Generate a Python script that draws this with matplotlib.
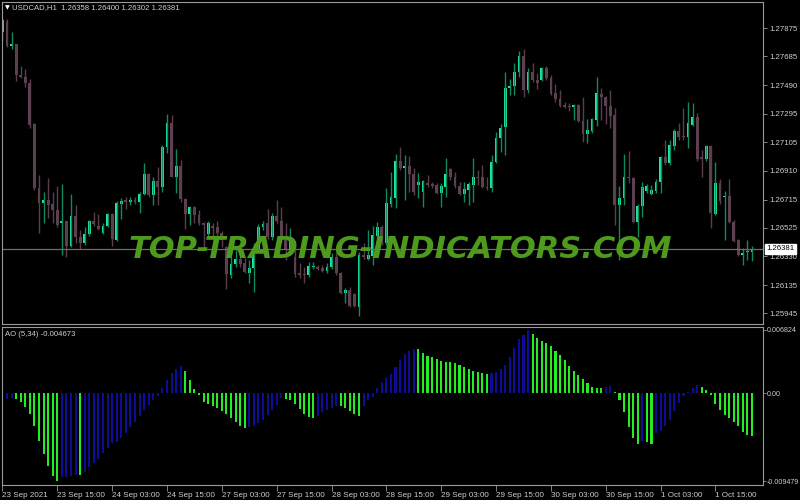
import numpy as np
import matplotlib
matplotlib.use("Agg")
import matplotlib.pyplot as plt

plt.rcParams["font.family"] = ["Liberation Sans", "DejaVu Sans"]

# USDCAD H1 candles, 23 Sep 03:00 .. 1 Oct 23:00
opens = [
    1.27850, 1.27925, 1.27756, 1.27769, 1.27559, 1.27546, 1.27505, 1.27228, 1.26794, 1.26693,
    1.26713, 1.26686, 1.26645, 1.26557, 1.26571, 1.26402, 1.26605, 1.26463, 1.26422, 1.26483,
    1.26571, 1.26537, 1.26490, 1.26537, 1.26618, 1.26442, 1.26686, 1.26713, 1.26699, 1.26713,
    1.26699, 1.26754, 1.26889, 1.26747, 1.26842, 1.26801, 1.27072, 1.27234, 1.26869, 1.26943,
    1.26720, 1.26618, 1.26666, 1.26611, 1.26557, 1.26483, 1.26537, 1.26530, 1.26490, 1.26395,
    1.26205, 1.26280, 1.26314, 1.26286, 1.26219, 1.26253, 1.26368, 1.26530, 1.26557, 1.26463,
    1.26605, 1.26571, 1.26442, 1.26375, 1.26327, 1.26219, 1.26212, 1.26205, 1.26259, 1.26259,
    1.26253, 1.26232, 1.26259, 1.26327, 1.26219, 1.26083, 1.26104, 1.26077, 1.25989, 1.26341,
    1.26314, 1.26334, 1.26469, 1.26530, 1.26422, 1.26686, 1.26727, 1.26977, 1.26930, 1.26943,
    1.26889, 1.26815, 1.26767, 1.26828, 1.26821, 1.26815, 1.26760, 1.26801, 1.26923, 1.26869,
    1.26808, 1.26754, 1.26781, 1.26815, 1.26869, 1.26869, 1.26801, 1.26794, 1.26970, 1.27133,
    1.27207, 1.27471, 1.27485, 1.27580, 1.27688, 1.27458, 1.27580, 1.27525, 1.27525, 1.27607,
    1.27539, 1.27437, 1.27397, 1.27356, 1.27349, 1.27343, 1.27356, 1.27248, 1.27160, 1.27180,
    1.27255, 1.27431, 1.27410, 1.27349, 1.27288, 1.26679, 1.26727, 1.26869, 1.26862, 1.26564,
    1.26672, 1.26774, 1.26754, 1.26774, 1.26835, 1.27004, 1.26963, 1.27079, 1.27180, 1.27146,
    1.27140, 1.27221, 1.27275, 1.27004, 1.26991, 1.27079, 1.26618, 1.26828, 1.26733, 1.26740,
    1.26564, 1.26442, 1.26341, 1.26361, 1.26358]
highs = [
    1.27952, 1.27938, 1.27850, 1.27769, 1.27620, 1.27600, 1.27532, 1.27234, 1.26882, 1.26767,
    1.26862, 1.26767, 1.26808, 1.26821, 1.26571, 1.26754, 1.26679, 1.26510, 1.26530, 1.26578,
    1.26632, 1.26618, 1.26557, 1.26625, 1.26625, 1.26706, 1.26727, 1.26733, 1.26733, 1.26733,
    1.26767, 1.26963, 1.26896, 1.26869, 1.26936, 1.27085, 1.27295, 1.27288, 1.27058, 1.26984,
    1.26727, 1.26672, 1.26672, 1.26645, 1.26564, 1.26571, 1.26557, 1.26571, 1.26503, 1.26402,
    1.26327, 1.26375, 1.26334, 1.26320, 1.26307, 1.26422, 1.26551, 1.26571, 1.26652, 1.26625,
    1.26713, 1.26666, 1.26557, 1.26523, 1.26375, 1.26286, 1.26259, 1.26293, 1.26293, 1.26273,
    1.26273, 1.26286, 1.26354, 1.26354, 1.26226, 1.26117, 1.26124, 1.26083, 1.26361, 1.26422,
    1.26510, 1.26537, 1.26564, 1.26544, 1.26794, 1.26903, 1.27024, 1.27072, 1.27018, 1.27011,
    1.26930, 1.26896, 1.26848, 1.26882, 1.26835, 1.26828, 1.26828, 1.26997, 1.26930, 1.26903,
    1.26835, 1.26835, 1.26835, 1.26997, 1.26916, 1.26950, 1.26869, 1.27018, 1.27173, 1.27228,
    1.27580, 1.27532, 1.27640, 1.27722, 1.27735, 1.27607, 1.27640, 1.27573, 1.27613, 1.27620,
    1.27559, 1.27498, 1.27458, 1.27376, 1.27370, 1.27363, 1.27363, 1.27410, 1.27261, 1.27268,
    1.27546, 1.27471, 1.27417, 1.27458, 1.27336, 1.26808, 1.27024, 1.27045, 1.26869, 1.26686,
    1.26835, 1.26821, 1.26815, 1.26855, 1.27011, 1.27119, 1.27119, 1.27194, 1.27234, 1.27336,
    1.27376, 1.27370, 1.27302, 1.27052, 1.27085, 1.27085, 1.26970, 1.26855, 1.26774, 1.26855,
    1.26578, 1.26449, 1.26388, 1.26442, 1.26400]
lows = [
    1.27789, 1.27749, 1.27735, 1.27519, 1.27539, 1.27478, 1.27200, 1.26781, 1.26490, 1.26557,
    1.26591, 1.26557, 1.26530, 1.26341, 1.26327, 1.26395, 1.26422, 1.26381, 1.26408, 1.26469,
    1.26537, 1.26510, 1.26483, 1.26530, 1.26402, 1.26435, 1.26584, 1.26652, 1.26679, 1.26686,
    1.26625, 1.26747, 1.26733, 1.26679, 1.26679, 1.26767, 1.27031, 1.26869, 1.26760, 1.26699,
    1.26517, 1.26544, 1.26557, 1.26544, 1.26395, 1.26469, 1.26463, 1.26463, 1.26395, 1.26110,
    1.26185, 1.26259, 1.26259, 1.26219, 1.26151, 1.26090, 1.26361, 1.26510, 1.26449, 1.26442,
    1.26557, 1.26422, 1.26307, 1.26354, 1.26192, 1.26185, 1.26151, 1.26192, 1.26246, 1.26239,
    1.26226, 1.26219, 1.26246, 1.26205, 1.26077, 1.26016, 1.25989, 1.25989, 1.25928, 1.26314,
    1.26307, 1.26273, 1.26463, 1.26408, 1.26408, 1.26666, 1.26659, 1.26916, 1.26713, 1.26767,
    1.26747, 1.26727, 1.26666, 1.26801, 1.26794, 1.26754, 1.26666, 1.26733, 1.26848, 1.26794,
    1.26747, 1.26699, 1.26679, 1.26699, 1.26815, 1.26794, 1.26781, 1.26767, 1.26963, 1.27038,
    1.27018, 1.27424, 1.27424, 1.27546, 1.27410, 1.27437, 1.27512, 1.27464, 1.27519, 1.27525,
    1.27424, 1.27376, 1.27343, 1.27336, 1.27316, 1.27255, 1.27241, 1.27106, 1.27099, 1.27167,
    1.27214, 1.27255, 1.27228, 1.27200, 1.26544, 1.26307, 1.26679, 1.26828, 1.26557, 1.26463,
    1.26598, 1.26760, 1.26747, 1.26760, 1.26760, 1.26950, 1.26950, 1.27052, 1.27119, 1.27119,
    1.27065, 1.27214, 1.26977, 1.26869, 1.26977, 1.26523, 1.26611, 1.26686, 1.26442, 1.26557,
    1.26429, 1.26334, 1.26273, 1.26307, 1.26302]
closes = [
    1.27932, 1.27756, 1.27769, 1.27559, 1.27546, 1.27505, 1.27221, 1.26794, 1.26693, 1.26713,
    1.26679, 1.26645, 1.26544, 1.26571, 1.26402, 1.26605, 1.26463, 1.26422, 1.26483, 1.26571,
    1.26551, 1.26517, 1.26537, 1.26618, 1.26449, 1.26693, 1.26706, 1.26699, 1.26713, 1.26699,
    1.26754, 1.26889, 1.26747, 1.26842, 1.26801, 1.27072, 1.27234, 1.26869, 1.26943, 1.26720,
    1.26618, 1.26666, 1.26611, 1.26557, 1.26544, 1.26557, 1.26523, 1.26490, 1.26442, 1.26212,
    1.26280, 1.26314, 1.26280, 1.26226, 1.26253, 1.26368, 1.26530, 1.26551, 1.26463, 1.26605,
    1.26571, 1.26442, 1.26375, 1.26463, 1.26212, 1.26205, 1.26205, 1.26266, 1.26266, 1.26246,
    1.26232, 1.26259, 1.26327, 1.26219, 1.26083, 1.26104, 1.25995, 1.25995, 1.26341, 1.26327,
    1.26341, 1.26476, 1.26530, 1.26422, 1.26693, 1.26733, 1.26977, 1.26930, 1.26943, 1.26889,
    1.26767, 1.26835, 1.26842, 1.26815, 1.26808, 1.26760, 1.26808, 1.26889, 1.26869, 1.26808,
    1.26754, 1.26787, 1.26821, 1.26869, 1.26862, 1.26801, 1.26794, 1.26970, 1.27133, 1.27200,
    1.27471, 1.27485, 1.27580, 1.27688, 1.27458, 1.27580, 1.27525, 1.27505, 1.27607, 1.27539,
    1.27431, 1.27397, 1.27349, 1.27343, 1.27343, 1.27356, 1.27248, 1.27160, 1.27187, 1.27261,
    1.27437, 1.27410, 1.27349, 1.27282, 1.26679, 1.26727, 1.26869, 1.26862, 1.26564, 1.26672,
    1.26801, 1.26808, 1.26781, 1.26835, 1.27004, 1.26963, 1.27085, 1.27180, 1.27140, 1.27140,
    1.27234, 1.27275, 1.26991, 1.26991, 1.27079, 1.26625, 1.26828, 1.26706, 1.26740, 1.26564,
    1.26435, 1.26341, 1.26354, 1.26368, 1.26381]

# Awesome Oscillator (5,34)
ao = [
    -0.00122, -0.00064, -0.00057, -0.00064, -0.00093, -0.00147, -0.00229, -0.00351, -0.00512, -0.00655,
    -0.00780, -0.00888, -0.009479, -0.00906, -0.00899, -0.00891, -0.00881, -0.00884, -0.00845, -0.00791,
    -0.00755, -0.00709, -0.00648, -0.00594, -0.00541, -0.00523, -0.00487, -0.00433, -0.00362, -0.00308,
    -0.00243, -0.00186, -0.00129, -0.00075, -0.00029, 0.00050, 0.00140, 0.00211, 0.00254, 0.00286,
    0.00240, 0.00140, 0.00043, -0.00021, -0.00093, -0.00122, -0.00140, -0.00165, -0.00190, -0.00226,
    -0.00272, -0.00315, -0.00354, -0.00372, -0.00365, -0.00354, -0.00326, -0.00290, -0.00236, -0.00186,
    -0.00129, -0.00050, -0.00064, -0.00079, -0.00122, -0.00172, -0.00229, -0.00254, -0.00265, -0.00243,
    -0.00208, -0.00183, -0.00165, -0.00136, -0.00143, -0.00165, -0.00193, -0.00222, -0.00243, -0.00136,
    -0.00075, -0.00039, 0.00057, 0.00115, 0.00158, 0.00200, 0.00283, 0.00354, 0.00415, 0.00451,
    0.00473, 0.00469, 0.00426, 0.00401, 0.00383, 0.00365, 0.00347, 0.00337, 0.00329, 0.00319,
    0.00301, 0.00279, 0.00258, 0.00240, 0.00229, 0.00218, 0.00208, 0.00218, 0.00229, 0.00254,
    0.00301, 0.00390, 0.00480, 0.00580, 0.00623, 0.006824, 0.00630, 0.00594, 0.00558, 0.00533,
    0.00505, 0.00455, 0.00408, 0.00358, 0.00286, 0.00240, 0.00193, 0.00150, 0.00111, 0.00068,
    0.00057, 0.00054, 0.00064, 0.00075, 0.00007, -0.00079, -0.00200, -0.00362, -0.00487, -0.00551,
    -0.00516, -0.00530, -0.00544, -0.00433, -0.00408, -0.00354, -0.00290, -0.00193, -0.00111, -0.00029,
    0.00014, 0.00057, 0.00086, 0.00064, 0.00032, -0.00021, -0.00115, -0.00183, -0.00236, -0.00272,
    -0.00308, -0.00354, -0.00422, -0.00451, -0.004673]

price_ticks = [1.27875, 1.27685, 1.27490, 1.27295, 1.27105, 1.26910,
               1.26715, 1.26525, 1.26330, 1.26135, 1.25945]
ao_ticks = [0.006824, 0.0, -0.009479]
ao_ticklabels = ["0.006824", "0.00", "-0.009479"]
date_bars = [0, 12, 24, 36, 48, 60, 72, 84, 96, 108, 120, 132, 144, 156]
date_labels = ["23 Sep 2021", "23 Sep 15:00", "24 Sep 03:00", "24 Sep 15:00",
               "27 Sep 03:00", "27 Sep 15:00", "28 Sep 03:00", "28 Sep 15:00",
               "29 Sep 03:00", "29 Sep 15:00", "30 Sep 03:00", "30 Sep 15:00",
               "1 Oct 03:00", "1 Oct 15:00"]
last_price = 1.26381

o = np.array(opens); h = np.array(highs); l = np.array(lows); c = np.array(closes)
x = np.arange(len(o))
up = c >= o

bull_body = "#1fe8a2"
bull_wick = "#0f8a5e"
bear_body = "#5e4254"
bear_wick = "#5a3e50"
frame = "#9a9a9a"
txt = "#d2cccc"
fs = 5.6

fig = plt.figure(figsize=(8, 5), dpi=100, facecolor="black")
ax = fig.add_axes([2/800, 1-324/500, 761/800, 322/500], facecolor="black")
ax2 = fig.add_axes([2/800, 1-485/500, 761/800, 158/500], facecolor="black")

# candles
ax.vlines(x[up], l[up], h[up], color=bull_wick, lw=1)
ax.vlines(x[~up], l[~up], h[~up], color=bear_wick, lw=1)
body_h = np.maximum(np.abs(c - o), 0.00003)
body_b = np.minimum(o, c)
ax.bar(x[up], body_h[up], bottom=body_b[up], width=0.62, color=bull_body, lw=0)
ax.bar(x[~up], body_h[~up], bottom=body_b[~up], width=0.62, color=bear_body, lw=0)

ax.axhline(last_price, color="#7a6672", lw=0.9)

ax.set_xlim(-0.1, 166.4)
ax.set_ylim(1.25873, 1.28053)
ax.set_xticks([])
ax.yaxis.tick_right()
ax.set_yticks(price_ticks)
ax.set_yticklabels(["%.5f" % p for p in price_ticks])
ax.tick_params(axis="y", colors=frame, labelcolor=txt, labelsize=fs, length=3, width=0.6, pad=1.5)
for s in ax.spines.values():
    s.set_color(frame)
    s.set_linewidth(0.8)

ax.annotate("%.5f" % last_price, xy=(1.0, last_price), xycoords=("axes fraction", "data"),
            xytext=(2.5, 0), textcoords="offset points", ha="left", va="center",
            fontsize=fs, color="black",
            bbox=dict(boxstyle="square,pad=0.2", fc="white", ec="white"))

# AO histogram: blue when rising, green when falling
ao_arr = np.array(ao)
rising = np.concatenate([[True], ao_arr[1:] >= ao_arr[:-1]])
cols = np.where(rising, "#0c0c96", "#22ee22")
ax2.bar(x, ao_arr, width=0.45, color=cols, lw=0)
ax2.set_xlim(-0.1, 166.4)
ax2.set_ylim(-0.00989, 0.00710)
ax2.yaxis.tick_right()
ax2.set_yticks(ao_ticks)
ax2.set_yticklabels(ao_ticklabels)
ax2.tick_params(axis="y", colors=frame, labelcolor=txt, labelsize=5.1, length=2, width=0.6, pad=1)
ax2.set_xticks(date_bars)
ax2.set_xticklabels(date_labels, ha="left")
ax2.tick_params(axis="x", colors=frame, labelcolor=txt, labelsize=5.8, length=4, width=0.6, pad=1)
for s in ax2.spines.values():
    s.set_color(frame)
    s.set_linewidth(0.8)

ax2.text(0.004, 0.975, "AO (5,34) -0.004673", transform=ax2.transAxes, ha="left", va="top",
         fontsize=fs, color=txt)

fig.text(5/800, 1-8/500, "\u25bc", fontsize=4.5, color="white", ha="left", va="center",
         family="DejaVu Sans")
fig.text(12/800, 1-8/500, "USDCAD,H1  1.26358 1.26400 1.26302 1.26381", fontsize=fs,
         color=txt, ha="left", va="center")

fig.text(0.5, 1-249/500, "TOP-TRADING-INDICATORS.COM", ha="center", va="center",
         fontsize=22, fontweight="bold", style="italic", color="#4d9a1c",
         family="DejaVu Sans")

fig.savefig("out.png", dpi=100, facecolor="black")
